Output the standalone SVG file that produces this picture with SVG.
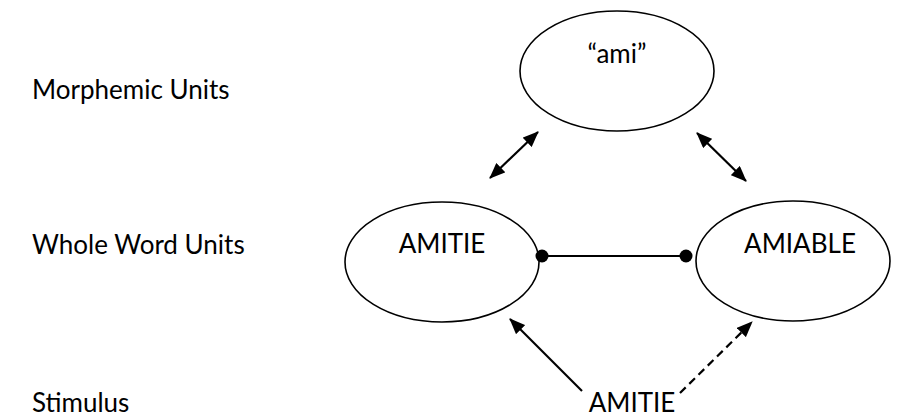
<svg xmlns="http://www.w3.org/2000/svg" width="898" height="419" viewBox="0 0 898 419">
  <style>
    text { font-family: Lato, "Open Sans", sans-serif; font-size: 26px; fill: #000; }
    .node ellipse { fill: #fff; stroke: #000; stroke-width: 1.6; }
    .node text { text-anchor: middle; }
    .conn { stroke: #000; stroke-width: 2.2; fill: none; }
    .dash { stroke-dasharray: 8 5; }
  </style>
  <defs>
    <!-- filled triangular arrowhead, tip at the line end -->
    <marker id="head" viewBox="0 0 16 13" refX="15" refY="6.5" markerWidth="16" markerHeight="13" markerUnits="userSpaceOnUse" orient="auto-start-reverse">
      <path d="M0,0 L16,6.5 L0,13 Z" fill="#000"/>
    </marker>
    <!-- round terminal for the lateral link -->
    <marker id="dot" viewBox="0 0 14 14" refX="7" refY="7" markerWidth="14" markerHeight="14" markerUnits="userSpaceOnUse">
      <circle cx="7" cy="7" r="6.5" fill="#000"/>
    </marker>
  </defs>

  <!-- level labels -->
  <g id="labels">
    <text x="32" y="99">Morphemic Units</text>
    <text x="32" y="254">Whole Word Units</text>
    <text x="32" y="412">Stimulus</text>
  </g>

  <!-- nodes -->
  <g id="morpheme-ami" class="node">
    <ellipse cx="617" cy="71" rx="97" ry="60"/>
    <text x="617" y="63">“ami”</text>
  </g>
  <g id="word-amitie" class="node">
    <ellipse cx="442" cy="262" rx="97" ry="60"/>
    <text x="442" y="253">AMITIE</text>
  </g>
  <g id="word-amiable" class="node">
    <ellipse cx="793" cy="261" rx="97" ry="60"/>
    <text x="800" y="253">AMIABLE</text>
  </g>
  <g id="stimulus" class="node">
    <text x="632" y="412">AMITIE</text>
  </g>

  <!-- connectors -->
  <g id="connectors">
    <line class="conn" x1="490" y1="178" x2="538" y2="132" marker-start="url(#head)" marker-end="url(#head)"/>
    <line class="conn" x1="697" y1="133" x2="746" y2="181" marker-start="url(#head)" marker-end="url(#head)"/>
    <line class="conn" x1="542" y1="256" x2="686" y2="256" marker-start="url(#dot)" marker-end="url(#dot)"/>
    <line class="conn" x1="582" y1="391" x2="510" y2="319" marker-end="url(#head)"/>
    <line class="conn dash" x1="680" y1="393" x2="752" y2="322" marker-end="url(#head)"/>
  </g>
</svg>
